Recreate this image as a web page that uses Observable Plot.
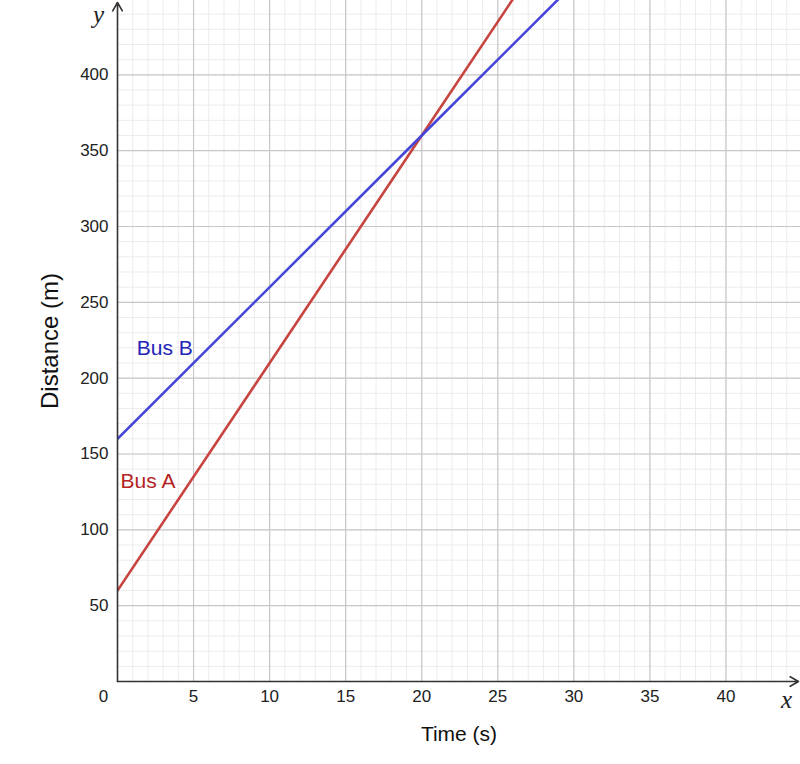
<!DOCTYPE html>
<html>
<head>
<meta charset="utf-8">
<script src="https://cdn.jsdelivr.net/npm/d3@7"></script>
<script src="https://cdn.jsdelivr.net/npm/@observablehq/plot@0.6"></script>
<style>
  html, body { margin: 0; padding: 0; background: #fff; }
  #chart svg { display: block; }
</style>
</head>
<body>
<div id="chart"></div>
<script>
// Data
const busATime = [0, 20, 30];
const busADist = [60, 360, 510];
const busBTime = [0, 20, 30];
const busBDist = [160, 360, 460];
const xDomain = [0, 44.9];
const yDomain = [0, 449];
const xTicks = [5, 10, 15, 20, 25, 30, 35, 40];
const yTicks = [50, 100, 150, 200, 250, 300, 350, 400];
const xMinor = d3.range(1, 45, 1);
const yMinor = d3.range(10, 450, 10);
const seriesLabels = [
  {name: "Bus A", t: 0.2, d: 132, color: "#b42424"},
  {name: "Bus B", t: 1.27, d: 219.5, color: "#2424b8"}
];

const busA = busATime.map((t, i) => ({t, d: busADist[i]}));
const busB = busBTime.map((t, i) => ({t, d: busBDist[i]}));
const font = "Liberation Sans, Arial, sans-serif";

const chart = Plot.plot({
  width: 800,
  height: 764,
  marginLeft: 117,
  marginRight: 0,
  marginTop: 0,
  marginBottom: 83,
  style: {fontFamily: font, background: "#fff", overflow: "visible"},
  x: {domain: xDomain, axis: null},
  y: {domain: yDomain, axis: null},
  marks: [
    Plot.ruleX(xMinor, {stroke: "#ececec", strokeWidth: 1}),
    Plot.ruleY(yMinor, {stroke: "#ececec", strokeWidth: 1}),
    Plot.ruleX(xTicks.concat([45]), {stroke: "#c8c8c8", strokeWidth: 1.2}),
    Plot.ruleY(yTicks, {stroke: "#c8c8c8", strokeWidth: 1.2}),
    Plot.line(busA, {x: "t", y: "d", stroke: "#c74440", strokeWidth: 2.6, clip: true}),
    Plot.line(busB, {x: "t", y: "d", stroke: "#4646d8", strokeWidth: 2.6, clip: true}),
    Plot.arrow([{x1: xDomain[0], y1: yDomain[0], x2: xDomain[0], y2: yDomain[1]}],
      {x1: "x1", y1: "y1", x2: "x2", y2: "y2", stroke: "#333", strokeWidth: 1.6, headLength: 9, insetEnd: 2}),
    Plot.arrow([{x1: xDomain[0], y1: yDomain[0], x2: xDomain[1], y2: yDomain[0]}],
      {x1: "x1", y1: "y1", x2: "x2", y2: "y2", stroke: "#333", strokeWidth: 1.6, headLength: 9, insetEnd: 2}),
    Plot.text(xTicks, {x: d => d, y: yDomain[0], text: d => String(d), dy: 15, fontSize: 17, fill: "#222", lineAnchor: "middle"}),
    Plot.text(yTicks, {x: xDomain[0], y: d => d, text: d => String(d), dx: -9, textAnchor: "end", fontSize: 17, fill: "#222"}),
    Plot.text([0], {x: xDomain[0], y: yDomain[0], text: d => String(d), dx: -14, dy: 15, fontSize: 17, fill: "#222", lineAnchor: "middle"}),
    Plot.text(["y"], {x: xDomain[0], y: yDomain[1], text: d => d, dx: -19, dy: 14, fontSize: 25, fontStyle: "italic", fontFamily: "Liberation Serif, Times New Roman, serif", fill: "#222"}),
    Plot.text(["x"], {x: xDomain[1], y: yDomain[0], text: d => d, dx: -14, dy: 18, fontSize: 25, fontStyle: "italic", fontFamily: "Liberation Serif, Times New Roman, serif", fill: "#222"}),
    Plot.text(["Time (s)"], {frameAnchor: "bottom", text: d => d, dy: 59, fontSize: 21, fill: "#111"}),
    Plot.text(["Distance (m)"], {frameAnchor: "left", text: d => d, dx: -67, rotate: -90, textAnchor: "middle", fontSize: 24, fill: "#111"}),
    Plot.text(seriesLabels, {x: "t", y: "d", text: "name", fill: "color", textAnchor: "start", fontSize: 21})
  ]
});
document.getElementById("chart").append(chart);
</script>
</body>
</html>
